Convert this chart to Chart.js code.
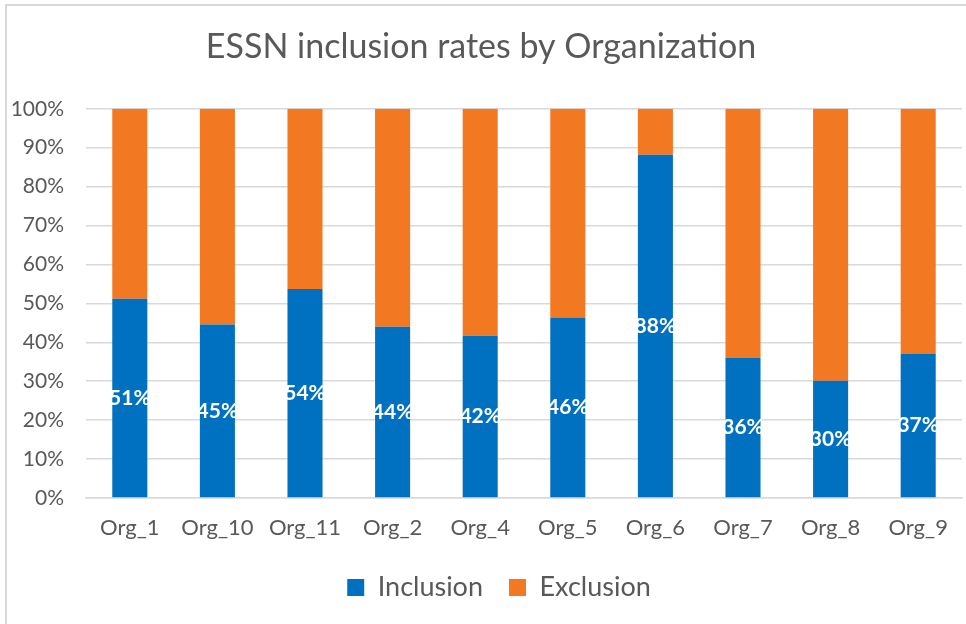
<!DOCTYPE html>
<html>
<head>
<meta charset="utf-8">
<script src="https://cdn.jsdelivr.net/npm/chart.js@4"></script>
<style>
  body { margin: 0; background: #fff; }
  #wrap { position: relative; width: 966px; height: 624px; }
  #frame { position: absolute; left: 5px; top: 4px; width: 980px; height: 640px;
           border-left: 2px solid #d9d9d9; border-top: 2px solid #d9d9d9; }
  canvas { position: absolute; left: 0; top: 0; }
</style>
</head>
<body>
<div id="wrap">
  <div id="frame"></div>
  <canvas id="chart" width="966" height="624"></canvas>
</div>
<script>
const categories = ['Org_1', 'Org_10', 'Org_11', 'Org_2', 'Org_4', 'Org_5', 'Org_6', 'Org_7', 'Org_8', 'Org_9'];
const inclusion = [51.2, 44.6, 53.7, 44.0, 41.7, 46.4, 88.2, 36.0, 30.1, 37.0];
const exclusion = inclusion.map(v => 100 - v);
const yTicks = [0, 10, 20, 30, 40, 50, 60, 70, 80, 90, 100];

const BLUE = '#0070C0';
const ORANGE = '#F37822';
const GREY = '#595959';

// white % labels centred on the inclusion segment
const inclusionLabels = {
  id: 'inclusionLabels',
  afterDatasetsDraw(chart) {
    const ctx = chart.ctx;
    const meta = chart.getDatasetMeta(0);
    ctx.save();
    ctx.fillStyle = '#fff';
    ctx.font = 'bold 21px Lato';
    ctx.textAlign = 'center';
    ctx.textBaseline = 'middle';
    meta.data.forEach((bar, i) => {
      const y = (bar.y + bar.base) / 2;
      ctx.fillText(Math.round(inclusion[i]) + '%', bar.x, y);
    });
    ctx.restore();
  }
};

// legend sits a little right of centre in the original
const legendShift = {
  id: 'legendShift',
  afterLayout(chart) {
    chart.legend.left += 18;
    chart.legend.right += 18;
  }
};

new Chart(document.getElementById('chart'), {
  type: 'bar',
  data: {
    labels: categories,
    datasets: [
      { label: 'Inclusion', data: inclusion, backgroundColor: BLUE },
      { label: 'Exclusion', data: exclusion, backgroundColor: ORANGE }
    ]
  },
  options: {
    responsive: false,
    animation: false,
    layout: { padding: { left: 0, right: 4, top: 0, bottom: 13 } },
    datasets: { bar: { categoryPercentage: 1, barPercentage: 0.4 } },
    plugins: {
      title: {
        display: true,
        text: 'ESSN inclusion rates by Organization',
        color: GREY,
        font: { family: 'Lato', size: 34, weight: 'normal' },
        padding: { top: 27, bottom: 41 }
      },
      legend: {
        position: 'bottom',
        labels: {
          color: GREY,
          font: { family: 'Lato', size: 27 },
          boxWidth: 17,
          boxHeight: 17,
          padding: 26
        }
      },
      tooltip: { enabled: false }
    },
    scales: {
      x: {
        stacked: true,
        grid: { display: false, drawTicks: false },
        border: { display: true, color: '#d9d9d9', width: 1.5 },
        ticks: { color: GREY, font: { family: 'Lato', size: 22 }, padding: 17 },
        afterFit(scale) { scale.height = 50; }
      },
      y: {
        stacked: true,
        min: 0,
        max: 100,
        afterBuildTicks(scale) { scale.ticks = yTicks.map(v => ({ value: v })); },
        grid: { color: '#d9d9d9', lineWidth: 1.5, drawTicks: false },
        border: { display: false },
        ticks: {
          color: GREY,
          font: { family: 'Lato', size: 21 },
          padding: 22,
          callback: v => v + '%'
        },
        afterFit(scale) { scale.width = 86; }
      }
    }
  },
  plugins: [inclusionLabels, legendShift]
});
</script>
</body>
</html>
